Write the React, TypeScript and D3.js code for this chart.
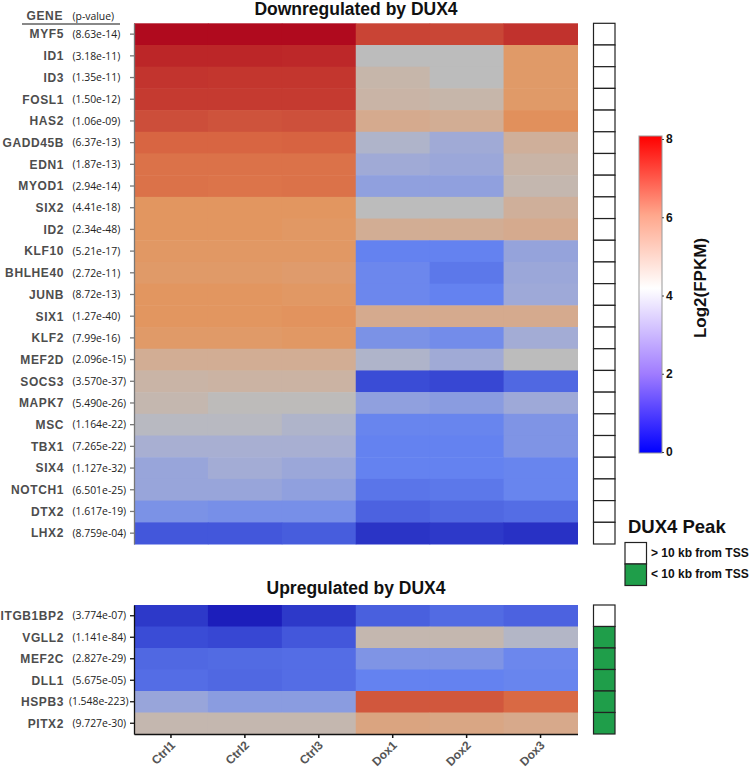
import React, { useEffect, useRef } from 'react';
import * as d3 from 'd3';

const samples = ['Ctrl1', 'Ctrl2', 'Ctrl3', 'Dox1', 'Dox2', 'Dox3'];

const downGenes = ['MYF5', 'ID1', 'ID3', 'FOSL1', 'HAS2', 'GADD45B', 'EDN1', 'MYOD1', 'SIX2', 'ID2', 'KLF10', 'BHLHE40',
  'JUNB', 'SIX1', 'KLF2', 'MEF2D', 'SOCS3', 'MAPK7', 'MSC', 'TBX1', 'SIX4', 'NOTCH1', 'DTX2', 'LHX2'];
const downPvalues = ['(8.63e-14)', '(3.18e-11)', '(1.35e-11)', '(1.50e-12)', '(1.06e-09)', '(6.37e-13)', '(1.87e-13)',
  '(2.94e-14)', '(4.41e-18)', '(2.34e-48)', '(5.21e-17)', '(2.72e-11)', '(8.72e-13)', '(1.27e-40)', '(7.99e-16)',
  '(2.096e-15)', '(3.570e-37)', '(5.490e-26)', '(1.164e-22)', '(7.265e-22)', '(1.127e-32)', '(6.501e-25)',
  '(1.617e-19)', '(8.759e-04)'];
// log2(FPKM), columns follow `samples`
const downValues = [
  [8.0, 8.0, 8.0, 6.75, 6.7, 7.2],
  [7.5, 7.5, 7.45, 3.5, 3.5, 4.9],
  [7.15, 7.1, 7.1, 3.9, 3.5, 4.9],
  [7.0, 7.0, 7.0, 4.0, 3.9, 4.9],
  [6.5, 6.4, 6.45, 4.4, 4.3, 5.1],
  [6.0, 6.0, 6.05, 3.2, 2.9, 4.2],
  [5.7, 5.7, 5.7, 2.9, 2.8, 4.0],
  [5.7, 5.65, 5.7, 2.6, 2.6, 3.8],
  [5.0, 5.0, 5.0, 3.5, 3.5, 4.2],
  [5.0, 5.0, 4.95, 4.3, 4.3, 4.4],
  [4.95, 4.95, 4.95, 2.0, 2.0, 2.7],
  [4.9, 4.9, 4.85, 2.1, 1.8, 2.8],
  [5.0, 5.0, 4.95, 2.1, 2.0, 2.85],
  [5.0, 5.0, 5.05, 4.4, 4.4, 4.4],
  [4.9, 4.9, 4.95, 2.3, 2.2, 2.95],
  [4.3, 4.3, 4.3, 3.2, 2.9, 3.5],
  [4.0, 4.05, 4.05, 1.0, 0.9, 1.5],
  [3.8, 3.55, 3.55, 2.6, 2.5, 2.85],
  [3.4, 3.4, 3.2, 2.05, 2.05, 2.35],
  [3.05, 3.05, 3.05, 2.0, 2.0, 2.35],
  [2.75, 2.95, 2.8, 2.0, 2.0, 2.05],
  [2.75, 2.75, 2.6, 1.75, 1.8, 2.05],
  [2.3, 2.25, 2.25, 1.4, 1.5, 1.6],
  [1.2, 1.2, 1.3, 0.5, 0.6, 0.45],
];
const downPeak = [0, 0, 0, 0, 0, 0, 0, 0, 0, 0, 0, 0, 0, 0, 0, 0, 0, 0, 0, 0, 0, 0, 0, 0];

const upGenes = ['ITGB1BP2', 'VGLL2', 'MEF2C', 'DLL1', 'HSPB3', 'PITX2'];
const upPvalues = ['(3.774e-07)', '(1.141e-84)', '(2.827e-29)', '(5.675e-05)', '(1.548e-223)', '(9.727e-30)'];
const upValues = [
  [0.6, 0.1, 0.6, 1.35, 1.55, 1.4],
  [1.0, 0.9, 1.2, 3.8, 3.8, 3.3],
  [1.5, 1.55, 1.6, 2.35, 2.35, 2.1],
  [1.6, 1.5, 1.6, 2.0, 2.0, 2.05],
  [2.75, 2.5, 2.5, 6.3, 6.3, 5.9],
  [3.8, 3.8, 3.8, 4.6, 4.55, 4.45],
];
const upPeak = [0, 1, 1, 1, 1, 1];

const heatStops = [0, 0.5, 1, 1.5, 2, 2.5, 3, 3.5, 4, 4.5, 5, 5.5, 6, 6.5, 7, 7.5, 8];
const heatColors = ['#1818b8', '#2a34c6', '#3a4cd6', '#5068e2', '#6482f0', '#8a9ce0', '#a6aed4', '#bcbcbc',
  '#c9b4a6', '#d8a888', '#e29660', '#dd7a4e', '#d86542', '#cc4e3a', '#c53a30', '#bc2628', '#b00a1e'];

const legendTicks = [0, 2, 4, 6, 8];
const legendStops = [0, 0.25, 0.52, 0.75, 1];
const legendColors = ['#0000ff', '#a07cff', '#ffffff', '#ffa78c', '#ff0000'];
const peakLabels = ['> 10 kb from TSS', '< 10 kb from TSS'];
const peakColors = ['#ffffff', '#1f9e4a'];

const W = 749;
const H = 776;

export default function App() {
  const svgRef = useRef<SVGSVGElement>(null);

  useEffect(() => {
    if (!svgRef.current) return;
    const svg = d3.select(svgRef.current);
    svg.selectAll('*').remove();

    const color = d3.scaleLinear<string>().domain(heatStops).range(heatColors).clamp(true);
    const x = d3.scaleBand().domain(samples).range([134, 577.5]);
    const peakX = 593.5;
    const peakW = 21.5;

    const drawBlock = (genes: string[], pvals: string[], values: number[][], peaks: number[],
      top: number, bottom: number, title: string, titleY: number, axisColor: string, withXAxis: boolean) => {
      const y = d3.scaleBand().domain(genes).range([top, bottom]);
      const g = svg.append('g');

      g.append('text')
        .attr('x', 356)
        .attr('y', titleY)
        .attr('text-anchor', 'middle')
        .attr('font-family', 'Liberation Sans, Arial, sans-serif')
        .attr('font-weight', 'bold')
        .attr('font-size', 17.5)
        .attr('fill', '#111')
        .text(title);

      // cells
      genes.forEach((gene, i) => {
        samples.forEach((s, j) => {
          g.append('rect')
            .attr('x', x(s)!)
            .attr('y', y(gene)!)
            .attr('width', x.bandwidth() + 0.5)
            .attr('height', y.bandwidth() + 0.5)
            .attr('fill', color(values[i][j]));
        });
      });

      // left axis
      const ax = g.append('g')
        .attr('transform', 'translate(134,0)')
        .call(d3.axisLeft(y).tickSize(4).tickSizeOuter(0).tickFormat(() => ''));
      ax.selectAll('path, line').attr('stroke', axisColor).attr('stroke-width', 1.3);

      // gene names + p-values
      genes.forEach((gene, i) => {
        const cy = y(gene)! + y.bandwidth() / 2;
        g.append('text')
          .attr('x', 64)
          .attr('y', cy)
          .attr('dy', '0.36em')
          .attr('text-anchor', 'end')
          .attr('font-family', 'Liberation Sans, Arial, sans-serif')
          .attr('font-weight', 'bold')
          .attr('font-size', 12)
          .attr('letter-spacing', 0.6)
          .attr('fill', '#4d4d4d')
          .text(gene);
        const long = pvals[i].length > 11;
        g.append('text')
          .attr('x', long ? 128.5 : 72.5)
          .attr('y', cy)
          .attr('dy', '0.36em')
          .attr('text-anchor', long ? 'end' : 'start')
          .attr('font-family', 'Open Sans, sans-serif')
          .attr('font-size', 10.4)
          .attr('fill', '#222')
          .text(pvals[i]);
      });

      // DUX4 peak boxes
      genes.forEach((gene, i) => {
        g.append('rect')
          .attr('x', peakX)
          .attr('y', y(gene)!)
          .attr('width', peakW)
          .attr('height', y.bandwidth())
          .attr('fill', peakColors[peaks[i]])
          .attr('stroke', '#222')
          .attr('stroke-width', 1.2);
      });

      if (withXAxis) {
        const bx = g.append('g')
          .attr('transform', `translate(0,${bottom})`)
          .call(d3.axisBottom(x).tickSize(4).tickSizeOuter(0).tickFormat(() => ''));
        bx.selectAll('path, line').attr('stroke', '#111').attr('stroke-width', 1.5);
        samples.forEach(s => {
          const cx = x(s)! + x.bandwidth() / 2;
          g.append('text')
            .attr('transform', `translate(${cx + 5},${bottom + 12}) rotate(-45)`)
            .attr('text-anchor', 'end')
            .attr('font-family', 'Liberation Sans, Arial, sans-serif')
            .attr('font-weight', 'bold')
            .attr('font-size', 12)
            .attr('fill', '#555')
            .text(s);
        });
      }
    };

    // header
    svg.append('text')
      .attr('x', 63).attr('y', 20)
      .attr('text-anchor', 'end')
      .attr('font-family', 'Liberation Sans, Arial, sans-serif')
      .attr('font-weight', 'bold')
      .attr('font-size', 12)
      .attr('letter-spacing', 0.6)
      .attr('fill', '#4d4d4d')
      .text('GENE');
    svg.append('text')
      .attr('x', 72.5).attr('y', 20)
      .attr('font-family', 'Open Sans, sans-serif')
      .attr('font-size', 10.4)
      .attr('fill', '#222')
      .text('(p-value)');
    svg.append('line')
      .attr('x1', 22).attr('x2', 120).attr('y1', 24).attr('y2', 24)
      .attr('stroke', '#888').attr('stroke-width', 2);

    drawBlock(downGenes, downPvalues, downValues, downPeak, 23.3, 544, 'Downregulated by DUX4', 15, '#777', false);
    drawBlock(upGenes, upPvalues, upValues, upPeak, 605, 734, 'Upregulated by DUX4', 594, '#111', true);

    // colour bar
    const defs = svg.append('defs');
    const grad = defs.append('linearGradient')
      .attr('id', 'fpkm-grad')
      .attr('x1', '0%').attr('y1', '100%').attr('x2', '0%').attr('y2', '0%');
    legendStops.forEach((o, i) => {
      grad.append('stop').attr('offset', `${o * 100}%`).attr('stop-color', legendColors[i]);
    });
    const ly = d3.scaleLinear().domain([0, 8]).range([452, 139]);
    svg.append('rect')
      .attr('x', 639).attr('y', 136)
      .attr('width', 23).attr('height', 317)
      .attr('fill', 'url(#fpkm-grad)')
      .attr('stroke', '#999')
      .attr('stroke-width', 1);
    const lax = svg.append('g')
      .attr('transform', 'translate(662,0)')
      .call(d3.axisRight(ly).tickValues(legendTicks).tickSize(2).tickSizeOuter(0).tickFormat(d3.format('d')));
    lax.select('.domain').remove();
    lax.selectAll('line').attr('stroke', '#444');
    lax.selectAll('text')
      .attr('font-family', 'Liberation Sans, Arial, sans-serif')
      .attr('font-weight', 'bold')
      .attr('font-size', 12)
      .attr('fill', '#111')
      .attr('x', 4);
    svg.append('text')
      .attr('transform', 'translate(706,288) rotate(-90)')
      .attr('text-anchor', 'middle')
      .attr('font-family', 'Liberation Sans, Arial, sans-serif')
      .attr('font-weight', 'bold')
      .attr('font-size', 17)
      .attr('fill', '#111')
      .text('Log2(FPKM)');

    // DUX4 peak legend
    svg.append('text')
      .attr('x', 628).attr('y', 533)
      .attr('font-family', 'Liberation Sans, Arial, sans-serif')
      .attr('font-weight', 'bold')
      .attr('font-size', 18.5)
      .attr('fill', '#111')
      .text('DUX4 Peak');
    peakLabels.forEach((lab, i) => {
      const top = 542.5 + i * 21.5;
      svg.append('rect')
        .attr('x', 625).attr('y', top)
        .attr('width', 21.5).attr('height', 21.5)
        .attr('fill', peakColors[i])
        .attr('stroke', '#222')
        .attr('stroke-width', 1.2);
      svg.append('text')
        .attr('x', 651).attr('y', top + 10)
        .attr('dy', '0.35em')
        .attr('font-family', 'Liberation Sans, Arial, sans-serif')
        .attr('font-weight', 'bold')
        .attr('font-size', 12)
        .attr('fill', '#111')
        .text(lab);
    });
  }, []);

  return (
    <svg ref={svgRef} width={W} height={H}
      style={{ position: 'absolute', left: 0, top: 0, background: '#fff' }} />
  );
}
